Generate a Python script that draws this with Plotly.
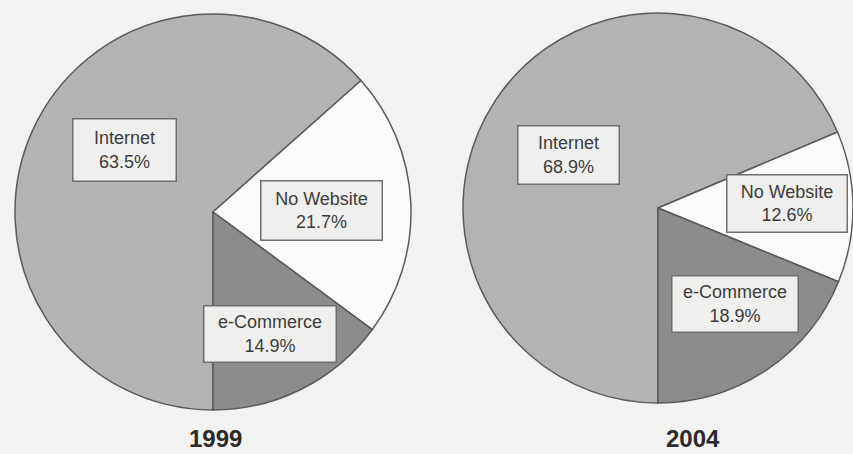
import plotly.graph_objects as go

categories = ["Internet", "No Website", "e-Commerce"]
values_1999 = [63.5, 21.7, 14.9]
values_2004 = [68.9, 12.6, 18.9]
years = ["1999", "2004"]

W, H = 853, 454
slice_colors = ["#b3b3b3", "#fbfbfb", "#8c8c8c"]
line_col = "#5a5a5a"
bg = "#f2f2f0"


def px_x(x):
    return x / W


def px_y(y):
    return 1 - y / H


fig = go.Figure()

pie_domains = [
    dict(x=[px_x(15), px_x(411)], y=[px_y(410), px_y(14)]),
    dict(x=[px_x(463), 1.0], y=[px_y(405), px_y(11)]),
]

for vals, dom, yr in zip([values_1999, values_2004], pie_domains, years):
    fig.add_trace(go.Pie(
        labels=categories,
        values=vals,
        sort=False,
        direction="clockwise",
        rotation=180,
        textinfo="none",
        hoverinfo="label+value",
        marker=dict(colors=slice_colors, line=dict(color=line_col, width=1.5)),
        domain=dom,
        showlegend=False,
        name=yr,
    ))

# label boxes: (center x, center y, width, height) in pixels, per year and category
boxes = [
    [(124.5, 150, 105, 64), (321.5, 210.5, 123, 61), (270, 334, 134, 58)],
    [(568.5, 155, 103, 60), (787, 203.5, 122, 59), (735, 304, 128, 58)],
]

annotations = []
for vals, bx in zip([values_1999, values_2004], boxes):
    for cat, v, (cx, cy, bw, bh) in zip(categories, vals, bx):
        annotations.append(dict(
            x=px_x(cx), y=px_y(cy), xref="paper", yref="paper",
            text=f"{cat}<br>{v:.1f}%", showarrow=False,
            xanchor="center", yanchor="middle",
            width=bw - 3, height=bh - 3, align="center", valign="middle",
            bgcolor="#efefed", bordercolor="#6e6e6e", borderwidth=1.5, borderpad=0,
            font=dict(family="Liberation Sans, Arial, sans-serif", size=18, color="#3c3c3c"),
        ))

for yr, tx in zip(years, [215, 693]):
    annotations.append(dict(
        x=px_x(tx), y=px_y(453), xref="paper", yref="paper",
        text=f"<b>{yr}</b>", showarrow=False, xanchor="center", yanchor="bottom",
        borderpad=0,
        font=dict(family="Liberation Sans, Arial, sans-serif", size=24, color="#2a2a2a"),
    ))

fig.update_layout(
    width=W, height=H,
    margin=dict(l=0, r=0, t=0, b=0),
    paper_bgcolor=bg, plot_bgcolor=bg,
    annotations=annotations,
)

fig.write_html(
    "out.html",
    config={"displayModeBar": False},
    post_script="document.body.style.margin='0';document.body.style.background='%s';" % bg,
)
